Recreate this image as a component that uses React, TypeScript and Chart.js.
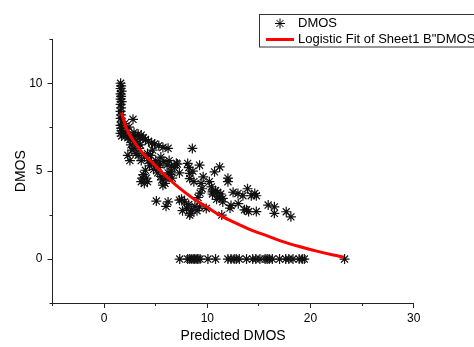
import React, { useEffect, useRef } from 'react';
import { Chart, registerables } from 'chart.js';

Chart.register(...registerables);

// Scatter observations (Predicted DMOS, DMOS)
const scatterX = [
  1.6, 1.65, 1.6, 1.7, 1.6, 1.65, 1.6, 1.7, 1.6, 1.65, 1.6, 1.65, 1.6, 1.7, 1.6, 1.65, 1.7, 1.6, 1.7,
  1.9, 2.1, 2.3, 2.2, 2.0, 2.4, 2.6, 2.8, 2.8, 3.0, 2.7, 3.3, 3.6, 4.4, 4.6, 5.3, 5.5, 5.7, 6.2, 6.5, 7.0, 4.2, 3.7,
  3.0, 3.3, 3.6, 3.8, 4.0, 4.3, 4.6, 4.9, 5.3, 5.7, 6.2, 3.2, 3.5, 2.6, 2.9, 3.1, 4.2, 4.5, 3.9, 2.3, 2.5,
  5.0, 5.4, 5.8, 6.1, 6.5, 6.8, 7.1, 6.4, 6.6, 7.3, 5.2, 4.8, 4.0, 3.8, 4.1, 3.6, 3.9, 5.6, 5.9,
  5.06, 6.0, 6.2, 7.3, 7.5, 7.8, 7.6, 8.0, 8.3, 8.2, 8.5, 8.8, 9.0, 9.25, 9.9,
  8.55, 8.1, 8.2, 8.3, 8.3, 8.6, 9.25, 9.6, 9.4, 9.5, 9.3, 10.2, 10.4, 10.5, 10.5, 10.7, 11.2, 10.8, 11.0, 11.2,
  11.5, 11.5, 11.4, 12.0, 12.0, 12.2, 12.3, 12.5, 12.97, 13.0, 13.45, 13.6, 13.8, 13.9, 14.0, 14.26, 14.6, 14.75, 14.75,
  15.9, 16.5, 16.5, 17.65, 18.1,
  2.5, 3.4, 4.7, 5.5, 6.3, 6.0, 4.3, 3.4, 2.9, 5.1, 8.7, 9.1, 10.9, 11.3, 8.4,
  7.33, 8.1, 8.3, 8.5, 8.7, 8.8, 9.0, 9.1, 9.3, 10.06, 10.8, 12.0, 12.3, 12.6, 12.8, 13.1, 13.8, 14.4, 14.7, 15.1,
  15.6, 15.8, 16.0, 16.3, 17.0, 17.6, 17.9, 18.3, 18.9, 19.2, 19.4, 23.3,
];
const scatterY = [
  10.0, 9.85, 9.7, 9.55, 9.4, 9.25, 9.1, 8.95, 8.8, 8.6, 8.4, 8.2, 8.0, 7.8, 7.6, 7.45, 7.3, 7.15, 7.0,
  7.2, 7.0, 6.9, 7.4, 7.7, 7.5, 7.0, 6.8, 7.95, 6.7, 6.2, 5.9, 5.6, 5.3, 5.5, 5.2, 4.7, 4.2, 4.9, 5.3, 5.45, 4.4, 4.6,
  7.0, 7.1, 7.05, 6.9, 6.8, 6.7, 6.6, 6.55, 6.45, 6.35, 6.3, 6.6, 6.5, 6.5, 6.3, 6.0, 6.0, 5.9, 5.8, 5.9, 5.6,
  5.6, 5.45, 5.55, 5.35, 5.0, 5.2, 5.4, 4.8, 4.6, 4.9, 4.9, 5.1, 5.05, 4.8, 4.6, 4.4, 4.3, 4.5, 4.3,
  3.3, 3.0, 3.25, 3.35, 3.4, 3.25, 2.75, 2.9, 2.5, 3.1, 2.8, 3.0, 2.75, 2.97, 2.88,
  6.29, 5.44, 5.2, 4.87, 4.58, 5.0, 5.34, 4.68, 4.3, 4.0, 3.75, 4.4, 4.1, 3.82, 3.7, 4.96, 5.24, 3.9, 3.8, 3.55,
  3.45, 3.25, 2.5, 4.4, 4.6, 2.9, 3.05, 3.8, 3.73, 3.15, 3.6, 2.8, 2.8, 4.0, 2.7, 3.6, 3.73, 3.6, 2.7,
  3.07, 2.97, 2.6, 2.69, 2.4,
  6.8, 6.3, 6.2, 5.8, 5.6, 4.6, 5.6, 6.9, 7.2, 5.3, 4.4, 3.5, 3.4, 3.7, 2.6,
  0, 0, 0, 0, 0, 0, 0, 0, 0, 0, 0, 0, 0, 0, 0, 0, 0, 0, 0, 0,
  0, 0, 0, 0, 0, 0, 0, 0, 0, 0, 0, 0,
];

// Logistic fit curve
const fitX = [1.68, 2.17, 2.81, 3.78, 4.75, 6.05, 7.34, 8.63, 9.93, 11.2, 12.5, 14.1, 15.75, 17.4, 19.0, 20.6, 22.2, 23.25];
const fitY = [8.33, 7.42, 6.76, 6.0, 5.44, 4.68, 4.02, 3.45, 2.97, 2.5, 2.12, 1.69, 1.33, 0.98, 0.7, 0.45, 0.23, 0.11];

const xMin = -5;
const xMax = 30;
const xStep = 5;
const yMin = -2.5;
const yMax = 12.5;
const yStep = 2.5;

const seriesName = 'DMOS';
const fitName = 'Logistic Fit of Sheet1 B"DMOS"';
const xTitle = 'Predicted DMOS';
const yTitle = 'DMOS';

const FONT = 'Arial, "Liberation Sans", sans-serif';

const legendPlugin = {
  id: 'customLegend',
  afterDraw(chart: any) {
    const ctx = chart.ctx;
    ctx.save();
    // shorten minor ticks (odd multiples of the step)
    ctx.fillStyle = '#fff';
    const xs = chart.scales.x;
    const ys = chart.scales.y;
    for (let v = xMin; v <= xMax; v += xStep) {
      if (v % 10 !== 0) {
        const px = Math.round(xs.getPixelForValue(v));
        ctx.fillRect(px - 1, xs.top + 3, 3, 4);
      }
    }
    for (let v = yMin; v <= yMax; v += yStep) {
      if (v % 5 !== 0) {
        const py = Math.round(ys.getPixelForValue(v));
        ctx.fillRect(ys.right - 7, py - 1, 4, 3);
      }
    }
    // box
    ctx.fillStyle = '#fff';
    ctx.fillRect(259.5, 14.5, 230, 32.5);
    ctx.strokeStyle = '#333';
    ctx.lineWidth = 1;
    ctx.strokeRect(259.5, 14.5, 230, 32.5);
    // star symbol
    const cx = 280, cy = 23.5, r = 5;
    ctx.strokeStyle = '#000';
    ctx.beginPath();
    ctx.moveTo(cx - r, cy); ctx.lineTo(cx + r, cy);
    ctx.moveTo(cx, cy - r); ctx.lineTo(cx, cy + r);
    const d = r * Math.SQRT1_2;
    ctx.moveTo(cx - d, cy - d); ctx.lineTo(cx + d, cy + d);
    ctx.moveTo(cx - d, cy + d); ctx.lineTo(cx + d, cy - d);
    ctx.stroke();
    // red line
    ctx.strokeStyle = '#ff0000';
    ctx.lineWidth = 3;
    ctx.beginPath();
    ctx.moveTo(266, 39.5); ctx.lineTo(294, 39.5);
    ctx.stroke();
    ctx.fillStyle = '#000';
    ctx.font = '13px ' + FONT;
    ctx.textBaseline = 'middle';
    ctx.textAlign = 'left';
    ctx.fillText(seriesName, 298, 23.5);
    ctx.fillText(fitName, 298, 39.5);
    ctx.restore();
  },
};

export default function App() {
  const ref = useRef<HTMLCanvasElement | null>(null);
  useEffect(() => {
    if (!ref.current) return;
    const chart = new Chart(ref.current, {
      type: 'scatter',
      data: {
        datasets: [
          {
            label: seriesName,
            data: scatterX.map((x, i) => ({ x, y: scatterY[i] })),
            pointStyle: 'star',
            pointRadius: 5,
            pointBorderColor: '#111',
            pointBackgroundColor: '#111',
            pointBorderWidth: 1.2,
            showLine: false,
            order: 2,
          },
          {
            label: fitName,
            data: fitX.map((x, i) => ({ x, y: fitY[i] })),
            showLine: true,
            borderColor: '#ff0000',
            borderWidth: 3,
            pointRadius: 0,
            cubicInterpolationMode: 'monotone',
            fill: false,
            order: 1,
          },
        ],
      },
      options: {
        responsive: false,
        animation: false,
        devicePixelRatio: 1,
        layout: { padding: { left: 0, right: 60.3, top: 39.3, bottom: 0 } },
        plugins: { legend: { display: false }, tooltip: { enabled: false } },
        scales: {
          x: {
            type: 'linear',
            min: xMin,
            max: xMax,
            ticks: {
              stepSize: xStep,
              autoSkip: false,
              maxRotation: 0,
              color: '#000',
              font: { size: 12, family: FONT },
              padding: 3,
              callback: (v: any) => (Number(v) % 10 === 0 ? String(v) : ''),
            },
            grid: { drawOnChartArea: false, drawTicks: true, tickLength: 5, tickColor: '#222' },
            border: { display: true, color: '#222', width: 1 },
            title: { display: true, text: xTitle, color: '#000', font: { size: 14, family: FONT }, padding: { top: 4, bottom: 2 } },
            afterFit: (s: any) => { s.height = 44; },
          },
          y: {
            type: 'linear',
            min: yMin,
            max: yMax,
            ticks: {
              stepSize: yStep,
              autoSkip: false,
              color: '#000',
              font: { size: 12, family: FONT },
              padding: 5,
              callback: (v: any) => (Number(v) % 5 === 0 ? String(v) : ''),
            },
            grid: { drawOnChartArea: false, drawTicks: true, tickLength: 5, tickColor: '#222' },
            border: { display: true, color: '#222', width: 1 },
            title: { display: true, text: yTitle, color: '#000', font: { size: 14, family: FONT }, padding: { top: 13, bottom: 4 } },
            afterFit: (s: any) => { s.width = 52.5; },
          },
        },
      },
      plugins: [legendPlugin],
    } as any);
    return () => chart.destroy();
  }, []);
  return (
    <div style={{ position: 'fixed', left: 0, top: 0, width: 474, height: 347, background: '#fff', overflow: 'hidden' }}>
      <canvas ref={ref} width={474} height={347} />
    </div>
  );
}
